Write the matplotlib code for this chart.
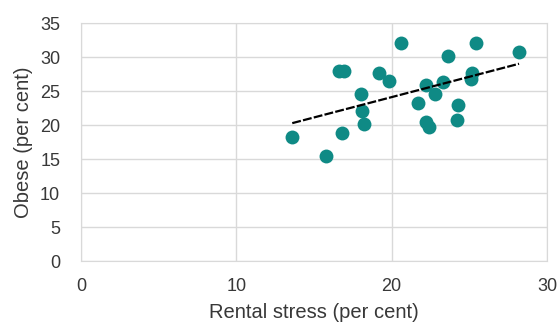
import matplotlib
matplotlib.use("Agg")
import matplotlib.pyplot as plt
import numpy as np

rental_stress = [13.6, 15.8, 16.6, 16.9, 16.8, 18.0, 18.1, 18.2, 19.2, 19.8, 20.6, 21.7, 22.2, 22.2,
                 22.4, 22.8, 23.3, 23.6, 24.3, 24.2, 25.2, 25.1, 25.4, 28.2]
obese = [18.3, 15.5, 28.0, 28.0, 18.8, 24.5, 22.1, 20.2, 27.6, 26.4, 32.1, 23.3, 25.9, 20.5,
         19.7, 24.5, 26.3, 30.2, 23.0, 20.8, 27.6, 26.7, 32.1, 30.8]
x_ticks = [0, 10, 20, 30]
y_ticks = [0, 5, 10, 15, 20, 25, 30, 35]

plt.rcParams['font.family'] = ['Liberation Sans', 'DejaVu Sans']

fig = plt.figure(figsize=(5.59, 3.30), dpi=100)
ax = fig.add_axes([81/559, 1-261/330, (547-81)/559, (261-23)/330])

x = np.array(rental_stress)
y = np.array(obese)
ax.scatter(x, y, s=100, color='#0F8A85', zorder=3, linewidths=0)
m, b = np.polyfit(x, y, 1)
xl = np.array([x.min(), x.max()])
ax.plot(xl, m*xl + b, color='black', lw=1.6, ls=(0, (4, 1)), zorder=4)

ax.set_xlim(0, 30)
ax.set_ylim(0, 35)
ax.set_xticks(x_ticks)
ax.set_yticks(y_ticks)
ax.grid(True, color='#d9d9d9', lw=1)
ax.set_axisbelow(True)
for s in ax.spines.values():
    s.set_color('#d9d9d9')
ax.tick_params(length=0, labelsize=13, colors='#383838')
ax.tick_params(axis='y', pad=15)
ax.tick_params(axis='x', pad=12)
ax.set_xlabel('Rental stress (per cent)', fontsize=14.5, color='#383838', labelpad=6)
ax.set_ylabel('Obese (per cent)', fontsize=14.5, color='#383838', labelpad=5)

fig.savefig('out.png', dpi=100)
